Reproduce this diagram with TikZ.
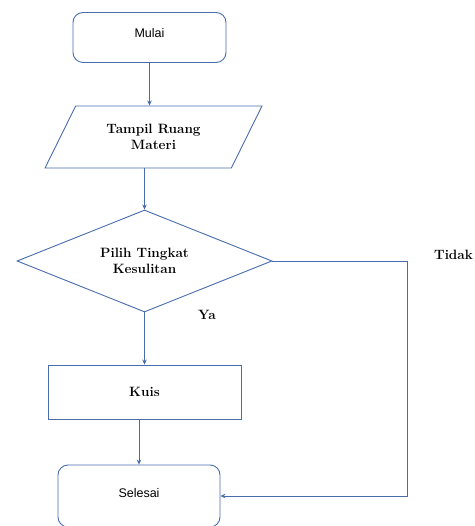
\documentclass[tikz,border=0pt]{standalone}
\usepackage{fontspec}
\newfontfamily\termfont{Liberation Sans}
\usetikzlibrary{shapes.geometric,arrows.meta}
\definecolor{flowblue}{RGB}{72,108,172}

\begin{document}
\begin{tikzpicture}[x=1pt, y=-1pt,
	every node/.style={font=\fontsize{13.5}{16}\selectfont\bfseries, align=center, inner sep=0pt},
	terminal/.style={draw=flowblue, line width=0.9pt, rounded corners=10pt, font=\termfont\fontsize{12.5}{15}\selectfont},
	inout/.style={draw=flowblue, line width=0.9pt, trapezium, trapezium left angle=54, trapezium right angle=126, trapezium stretches=true, minimum width=217pt, minimum height=62pt},
	decision/.style={draw=flowblue, line width=0.9pt, diamond, aspect=2.5, minimum width=255pt, minimum height=102pt},
	process/.style={draw=flowblue, line width=0.9pt, rectangle, minimum width=193pt, minimum height=54pt},
	link/.style={draw=flowblue, line width=1pt, -{Stealth[length=5pt,width=4.5pt]}}]
	\useasboundingbox (0,0) rectangle (474,526);
	\node[terminal, minimum width=153pt, minimum height=50pt, text depth=9pt] (mulai) at (149.5,37.5) {Mulai};
	\node[inout] (materi) at (153.5,137) {Tampil Ruang\\Materi};
	\node[decision] (pilih) at (144.5,261) {Pilih Tingkat\\Kesulitan};
	\node[process] (kuis) at (144.5,392) {Kuis};
	\node[terminal, minimum width=162pt, minimum height=62pt, text depth=6pt] (selesai) at (139,496) {Selesai};
	\node (ya) at (207,315) {Ya};
	\node (tidak) at (453.5,255) {Tidak};
	\coordinate (belok) at (407,261);
	\draw[link] (mulai.south) -- (mulai.south |- materi.north);
	\draw[link] (materi.south -| pilih.north) -- (pilih.north);
	\draw[link] (pilih.south) -- (kuis.north);
	\draw[link] (kuis.south -| selesai.north) -- (selesai.north);
	\draw[link] (pilih.east) -- (belok) |- (selesai.east);
\end{tikzpicture}
\end{document}
